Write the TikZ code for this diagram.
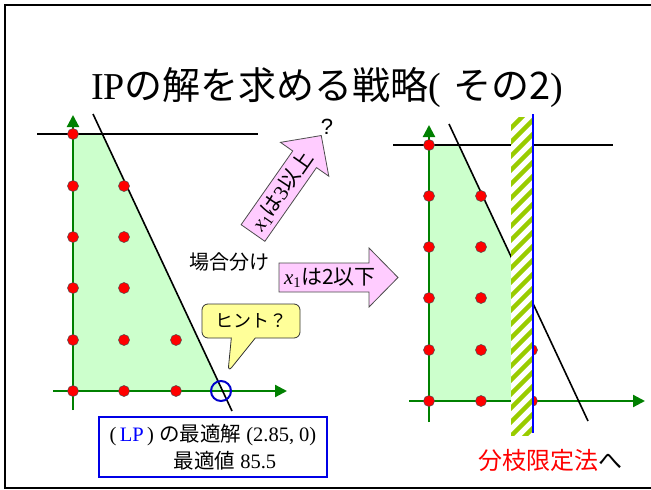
\documentclass[tikz,border=0pt]{standalone}
\usepackage{fontspec}
\setmainfont{Liberation Serif}
\newfontfamily\jp{Noto Sans CJK JP}
\newfontfamily\sans{Liberation Sans}
\usetikzlibrary{arrows.meta,shapes.callouts}

\definecolor{axisgreen}{RGB}{0,128,0}
\definecolor{feasgreen}{RGB}{204,255,204}
\definecolor{arrowpink}{RGB}{255,204,255}
\definecolor{hintyellow}{RGB}{255,255,153}
\definecolor{stripegreen}{RGB}{153,204,0}
\definecolor{boxblue}{RGB}{0,0,230}

\tikzset{
	axis/.style={axisgreen, line width=2.2pt, -{Triangle[length=12pt,width=12pt]}},
	dot/.style={fill=red, draw=black!70, line width=0.5pt},
	bound/.style={black, line width=1.6pt},
	block/.style={draw=black!70, fill=arrowpink, line width=0.8pt},
	hint/.style={draw=black!80, fill=hintyellow, line width=0.8pt, rounded corners=6pt,
		rectangle callout, callout pointer width=24pt, minimum width=98pt, minimum height=34pt},
}

\begin{document}
\begin{tikzpicture}[x=1pt,y=-1pt]
	\useasboundingbox (0,0) rectangle (651,490);
	
	% slide frame
	\draw[line width=1.6pt] (651,5) -- (5,5) -- (5,488) -- (651,488);
	
	% title
	\node (title) at (327,88) {\fontsize{38}{40}\selectfont IP{\jp の解を求める戦略}(\hspace{0.3em}{\jp その2})};
	
	% left chart: (LP)
	\fill[feasgreen] (73,134) -- (102.4,134) -- (222.6,391) -- (73,391) -- cycle;
	\draw[axis] (73,410) -- (73,115);
	\draw[axis] (53,391) -- (287,391);
	\draw[bound] (37,134) -- (258,134);
	\draw[bound] (93,114) -- (232,411);
	\foreach \y in {391,340,288,237,186,134}
		\draw[dot] (73,\y) circle (5.5pt);
	\foreach \y in {391,340,288,237,186}
		\draw[dot] (124,\y) circle (5.5pt);
	\foreach \y in {391,340}
		\draw[dot] (176,\y) circle (5.5pt);
	\draw[blue!80!black, line width=2pt] (221,391) circle (10pt);
	
	% LP optimum
	\node[draw=boxblue, line width=1.2pt, minimum width=228pt, minimum height=60pt, align=left, inner sep=3pt,
		font=\fontsize{20.5}{27}\selectfont] (lp) at (213,447)
		{(\,{\color{blue}LP}\,)\hspace{0.25em}{\jp の最適解} (2.85, 0)\\\hspace*{64pt}{\jp 最適値} 85.5};
	
	% hint
	\node[hint, callout absolute pointer={(228,372)}] (tip) at (251,321) {\fontsize{18}{20}\selectfont\jp ヒント？};
	
	% branching
	\node (split) at (229,262) {\fontsize{20}{22}\selectfont\jp 場合分け};
	\begin{scope}[shift={(253,233)}, rotate=55]
		\draw[block] (0,-14.5) -- (90,-14.5) -- (90,-29.5) -- (119,0) -- (90,29.5) -- (90,14.5) -- (0,14.5) -- cycle;
		\node[rotate=55] (up) at (51,0) {\fontsize{21}{23}\selectfont{\itshape x}\textsubscript{1}{\jp は}3{\jp 以上}};
	\end{scope}
	\node[inner sep=0pt] (qmark) at (327,127) {\sans\fontsize{22}{24}\selectfont ?};
	\begin{scope}[shift={(279,277.5)}]
		\draw[block] (0,-14.5) -- (90,-14.5) -- (90,-29.5) -- (119,0) -- (90,29.5) -- (90,14.5) -- (0,14.5) -- cycle;
		\node (down) at (51,0) {\fontsize{21}{23}\selectfont{\itshape x}\textsubscript{1}{\jp は2以下}};
	\end{scope}
	
	% right chart: x1 <= 2
	\fill[feasgreen] (429,145) -- (458.8,145) -- (511,256.5) -- (511,401) -- (429,401) -- cycle;
	\draw[axis] (429,422) -- (429,125);
	\draw[axis] (409,401) -- (645,401);
	\draw[bound] (393,145) -- (613,145);
	\draw[bound] (449,124) -- (588,421);
	\foreach \y in {401,350,298,247,196,145}
		\draw[dot] (429,\y) circle (5.5pt);
	\foreach \y in {401,350,298,247,196}
		\draw[dot] (481,\y) circle (5.5pt);
	\foreach \y in {401,350}
		\draw[dot] (532,\y) circle (5.5pt);
	% cut off strip 2 < x1 < 3
	\fill[white] (511,117) rectangle (533,435);
	\begin{scope}
		\clip (511,117) rectangle (533,435);
		\foreach \k in {0,...,25}
			\draw[stripegreen, line width=4.5pt] (505,120+14*\k) -- ++(32,-32);
	\end{scope}
	\draw[blue, line width=2pt] (533,114) -- (533,433);
	
	\node (next) at (550,460) {\fontsize{24}{26}\selectfont\jp\textcolor{red}{分枝限定法}へ};
\end{tikzpicture}
\end{document}
